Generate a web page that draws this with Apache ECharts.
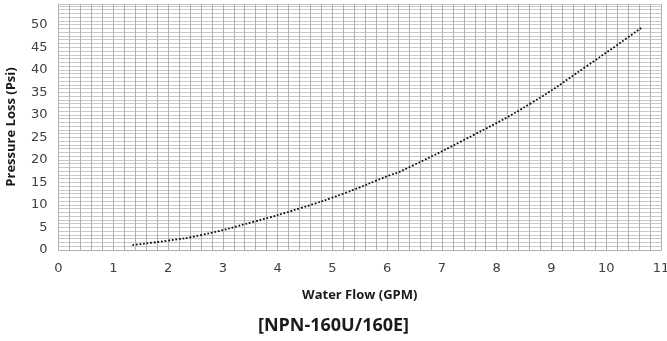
<!DOCTYPE html>
<html>
<head>
<meta charset="utf-8">
<script src="https://cdn.jsdelivr.net/npm/echarts@6/dist/echarts.min.js"></script>
<style>
html,body{margin:0;padding:0;background:#fff;}
#chart{width:667px;height:341px;}
</style>
</head>
<body>
<div id="chart"></div>
<script>
// Water flow (GPM) and pressure loss (Psi)
var flowGPM = [1.35, 2.0, 2.6, 3.57, 4.42, 5.22, 6.07, 6.22, 7.59, 8.63, 9.63, 10.64];
var pressurePsi = [1.1, 2.1, 3.3, 6.3, 9.3, 12.6, 16.7, 17.3, 25.6, 32.6, 40.7, 49.3];
var xTicks = [0, 1, 2, 3, 4, 5, 6, 7, 8, 9, 10, 11];
var yTicks = [0, 5, 10, 15, 20, 25, 30, 35, 40, 45, 50];
var chartTitle = '[NPN-160U/160E]';
var xTitle = 'Water Flow (GPM)';
var yTitle = 'Pressure Loss (Psi)';

var points = flowGPM.map(function (x, i) { return [x, pressurePsi[i]]; });
var vColor = '#b0b0b0';
var hColor = '#c8c8c8';

var chart = echarts.init(document.getElementById('chart'), null, { renderer: 'canvas' });
chart.setOption({
  animation: false,
  backgroundColor: '#fff',
  title: {
    text: chartTitle,
    left: 'center',
    top: 312,
    textStyle: { fontFamily: 'Open Sans', fontWeight: 'bold', fontSize: 18, color: '#1a1a1a' }
  },
  grid: { left: 58.5, right: 6, top: 4, bottom: 91, containLabel: false, outerBoundsMode: 'none' },
  xAxis: {
    type: 'value',
    min: xTicks[0],
    max: xTicks[xTicks.length - 1],
    interval: 1,
    name: xTitle,
    nameLocation: 'middle',
    nameGap: 39,
    nameTextStyle: { fontFamily: 'Open Sans', fontWeight: 'bold', fontSize: 13, color: '#1a1a1a' },
    axisLine: { show: true, lineStyle: { color: vColor, width: 1 } },
    axisTick: { show: false },
    axisLabel: { fontFamily: 'DejaVu Sans', fontSize: 13, color: '#404040', margin: 12 },
    splitLine: { show: true, lineStyle: { color: vColor, width: 1 } },
    minorTick: { show: false, splitNumber: 5 },
    minorSplitLine: { show: true, lineStyle: { color: vColor, width: 1 } }
  },
  yAxis: {
    type: 'value',
    min: yTicks[0],
    max: 54.6,
    interval: 5,
    name: yTitle,
    nameLocation: 'middle',
    nameGap: 41,
    nameTextStyle: { fontFamily: 'Open Sans', fontWeight: 'bold', fontSize: 13, color: '#1a1a1a' },
    axisLine: { show: true, lineStyle: { color: vColor, width: 1 } },
    axisTick: { show: false },
    axisLabel: {
      fontFamily: 'DejaVu Sans', fontSize: 13, color: '#404040', margin: 11,
      formatter: function (v) { return yTicks.indexOf(v) >= 0 ? String(v) : ''; }
    },
    splitLine: { show: true, lineStyle: { color: hColor, width: 1 } },
    minorTick: { show: false, splitNumber: 6 },
    minorSplitLine: { show: true, lineStyle: { color: hColor, width: 1 } }
  },
  series: [{
    type: 'line',
    data: points,
    smooth: true,
    showSymbol: false,
    symbol: 'none',
    lineStyle: { color: '#111111', width: 1.8, type: [1.8, 1.8] }
  }]
});
</script>
</body>
</html>
